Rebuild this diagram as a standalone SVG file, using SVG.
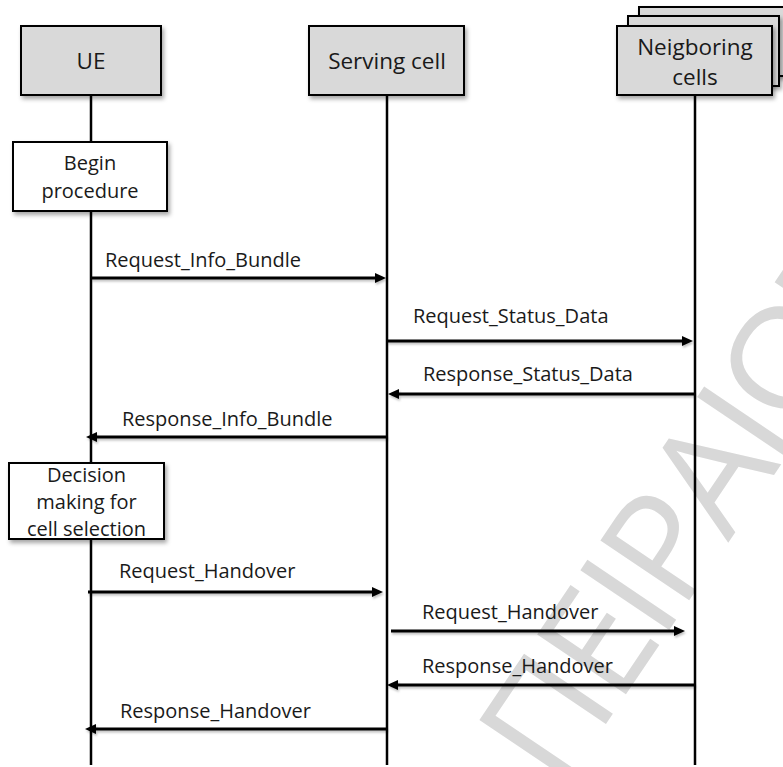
<svg xmlns="http://www.w3.org/2000/svg" width="783" height="767" viewBox="0 0 783 767">
  <style>
    .hdr { fill: #d9d9d9; stroke: #000; stroke-width: 2; }
    .act { fill: #ffffff; stroke: #000; stroke-width: 2; }
    .life { stroke: #000; stroke-width: 2.5; fill: none; }
    .msg { stroke: #000; stroke-width: 3; fill: none; }
    .ht { font-family: "Open Sans", "Liberation Sans", sans-serif; font-size: 22.5px; fill: #1a1a1a; text-anchor: middle; }
    .bt { font-family: "Open Sans", "Liberation Sans", sans-serif; font-size: 20px; fill: #1a1a1a; text-anchor: middle; }
    .lbl { font-family: "Open Sans", "Liberation Sans", sans-serif; font-size: 20px; fill: #1a1a1a; }
    .wm { font-family: "Open Sans", "Liberation Sans", sans-serif; font-size: 150px; fill: #d8d8d8; letter-spacing: -6px; }
  </style>
  <defs>
    <filter id="sh" x="-10%" y="-10%" width="130%" height="140%">
      <feDropShadow dx="2" dy="3" stdDeviation="2" flood-color="#000" flood-opacity="0.35"/>
    </filter>
    <filter id="lsh" x="-5%" y="-100%" width="110%" height="400%">
      <feDropShadow dx="1" dy="2" stdDeviation="1" flood-color="#000" flood-opacity="0.25"/>
    </filter>
    <marker id="ah" markerUnits="userSpaceOnUse" markerWidth="12" markerHeight="11" refX="3" refY="5" orient="auto">
      <path d="M0,0 L11,5 L0,10 z" fill="#000"/>
    </marker>
  </defs>
  <rect width="783" height="767" fill="#ffffff"/>

  <!-- watermark -->
  <text class="wm" transform="translate(560,792) rotate(-56)">ΠΕΙΡΑΙΩΣ</text>

  <!-- lifelines -->
  <g id="lifelines">
    <line class="life" x1="91" y1="95" x2="91" y2="765"/>
    <line class="life" x1="387" y1="95" x2="387" y2="765"/>
    <line class="life" x1="695" y1="95" x2="695" y2="765"/>
  </g>

  <g id="ue">
    <rect class="hdr" x="21" y="26" width="140" height="69" filter="url(#sh)"/>
    <text class="ht" x="91" y="69">UE</text>
  </g>
  <g id="serving-cell">
    <rect class="hdr" x="309" y="26" width="155" height="69" filter="url(#sh)"/>
    <text class="ht" x="387" y="69">Serving cell</text>
  </g>
  <g id="neighboring-cells">
    <rect class="hdr" x="639" y="7" width="152" height="69" filter="url(#sh)"/>
    <rect class="hdr" x="628" y="16" width="151" height="70" filter="url(#sh)"/>
    <rect class="hdr" x="617" y="26" width="155" height="69" filter="url(#sh)"/>
    <text class="ht" x="695" y="55">Neigboring</text>
    <text class="ht" x="695" y="85">cells</text>
  </g>
  <g id="begin-procedure">
    <rect class="act" x="13" y="142" width="154" height="69" filter="url(#sh)"/>
    <text class="bt" x="90" y="170">Begin</text>
    <text class="bt" x="90" y="198">procedure</text>
  </g>
  <g id="decision">
    <rect class="act" x="9" y="463" width="155" height="76" filter="url(#sh)"/>
    <text class="bt" x="86.5" y="482">Decision</text>
    <text class="bt" x="86.5" y="509">making for</text>
    <text class="bt" x="86.5" y="536">cell selection</text>
  </g>

  <!-- connectors -->
  <g id="connectors" filter="url(#lsh)">
    <line class="msg" x1="91" y1="278" x2="378" y2="278" marker-end="url(#ah)"/>
    <line class="msg" x1="387" y1="341" x2="685" y2="341" marker-end="url(#ah)"/>
    <line class="msg" x1="695" y1="394" x2="396" y2="394" marker-end="url(#ah)"/>
    <line class="msg" x1="387" y1="437" x2="94" y2="437" marker-end="url(#ah)"/>
    <line class="msg" x1="88" y1="592" x2="375" y2="592" marker-end="url(#ah)"/>
    <line class="msg" x1="391" y1="631" x2="677" y2="631" marker-end="url(#ah)"/>
    <line class="msg" x1="695" y1="685" x2="395" y2="685" marker-end="url(#ah)"/>
    <line class="msg" x1="387" y1="729" x2="93" y2="729" marker-end="url(#ah)"/>
  </g>
  <g id="labels">
    <text class="lbl" x="105" y="267">Request_Info_Bundle</text>
    <text class="lbl" x="413" y="323">Request_Status_Data</text>
    <text class="lbl" x="423" y="381">Response_Status_Data</text>
    <text class="lbl" x="122" y="426">Response_Info_Bundle</text>
    <text class="lbl" x="119" y="578">Request_Handover</text>
    <text class="lbl" x="422" y="619">Request_Handover</text>
    <text class="lbl" x="422" y="673">Response_Handover</text>
    <text class="lbl" x="120" y="718">Response_Handover</text>
  </g>
</svg>
